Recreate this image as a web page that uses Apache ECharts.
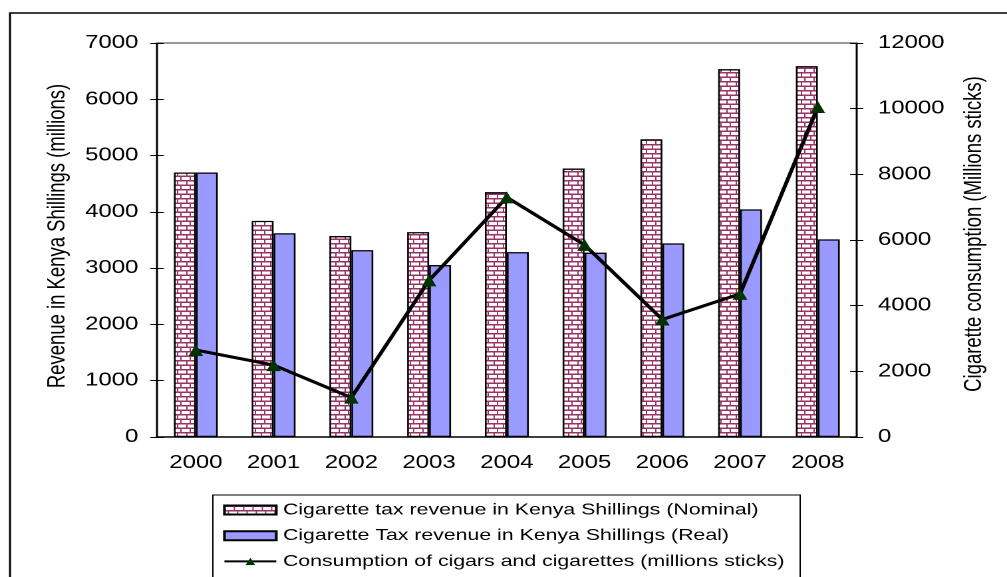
<!DOCTYPE html>
<html>
<head>
<meta charset="utf-8">
<script src="https://cdn.jsdelivr.net/npm/echarts@6/dist/echarts.min.js"></script>
<style>
html,body{margin:0;padding:0;background:#fff;overflow:hidden;width:1007px;height:577px;}
#c{width:757px;height:577px;transform:scaleX(1.33025);transform-origin:0 0;}
</style>
</head>
<body>
<div id="c"></div>
<script>
const categories = ['2000','2001','2002','2003','2004','2005','2006','2007','2008'];
const nominalRevenue = [4700, 3840, 3570, 3640, 4350, 4770, 5290, 6535, 6590];
const realRevenue = [4700, 3620, 3320, 3055, 3285, 3275, 3441, 4045, 3512];
const consumption = [2650, 2190, 1200, 4770, 7300, 5850, 3580, 4360, 10050];
const seriesNames = [
  'Cigarette tax revenue in Kenya Shillings (Nominal)',
  'Cigarette Tax revenue in Kenya Shillings (Real)',
  'Consumption of cigars and cigarettes (millions sticks)'
];
const leftAxisName = 'Revenue in Kenya Shillings (millions)';
const rightAxisName = 'Cigarette consumption (Millions sticks)';

// brick pattern
const pc = document.createElement('canvas');
pc.width = 14; pc.height = 18;
const px = pc.getContext('2d');
px.fillStyle = '#993366';
px.fillRect(0, 0, 14, 18);
px.fillStyle = '#ffffff';
px.fillRect(2, 3, 12, 6);
px.fillRect(0, 12, 5, 6);
px.fillRect(7, 12, 7, 6);
const brick = { image: pc, repeat: 'repeat', scaleX: 0.5, scaleY: 0.5 };

const FONT = 'Liberation Sans, Arial, sans-serif';
const plain = v => String(v);
const chart = echarts.init(document.getElementById('c'), null, { renderer: 'canvas', devicePixelRatio: 2 });

const baseX = { type: 'category', data: categories, boundaryGap: true };
const option = {
  animation: false,
  backgroundColor: '#fff',
  grid: { left: 118, right: 113, top: 43, bottom: 140, containLabel: false },
  graphic: [{
    type: 'rect', silent: true, z: -10,
    shape: { x: 7.5, y: 13, width: 900, height: 700 },
    style: { fill: 'none', stroke: '#000', lineWidth: 1.5 }
  }, {
    type: 'rect', silent: true, z: -10,
    shape: { x: 160, y: 495, width: 441.5, height: 200 },
    style: { fill: 'none', stroke: '#000', lineWidth: 1 }
  }],
  legend: {
    orient: 'vertical', left: 160, top: 495, align: 'left',
    itemWidth: 39, itemHeight: 9, itemGap: 9.7,
    padding: [7, 2, 2, 7.7],
    textStyle: { fontSize: 16, color: '#000', fontFamily: FONT },
    data: [
      { name: seriesNames[0], icon: 'rect' },
      { name: seriesNames[1], icon: 'rect' },
      { name: seriesNames[2] }
    ]
  },
  xAxis: [
    Object.assign({}, baseX, {
      position: 'bottom',
      axisLine: { onZero: false, lineStyle: { color: '#000', width: 1.5 } },
      axisTick: { length: 6, lineStyle: { color: '#000', width: 1 } },
      axisLabel: { fontSize: 18, color: '#000', margin: 17, fontFamily: FONT },
      splitLine: { show: false }
    }),
    Object.assign({}, baseX, {
      position: 'bottom',
      axisLine: { show: false, onZero: false },
      axisTick: { inside: true, length: 6, lineStyle: { color: '#000', width: 1 } },
      axisLabel: { show: false },
      splitLine: { show: false }
    }),
    Object.assign({}, baseX, {
      position: 'top',
      axisLine: { onZero: false, lineStyle: { color: '#999', width: 2 } },
      axisTick: { show: false },
      axisLabel: { show: false },
      splitLine: { show: false }
    })
  ],
  yAxis: [
    {
      type: 'value', position: 'left', min: 0, max: 7000, interval: 1000,
      axisLine: { show: true, lineStyle: { color: '#000', width: 1.5 } },
      axisTick: { show: true, length: 5, lineStyle: { color: '#000', width: 1 } },
      axisLabel: { fontSize: 18, color: '#000', margin: 14, fontFamily: FONT, formatter: plain },
      splitLine: { show: false },
      name: leftAxisName, nameLocation: 'middle', nameGap: 65, nameRotate: 90,
      nameTextStyle: { fontSize: 18.5, color: '#000', fontFamily: FONT, padding: [0, 0, 0, 8] }
    },
    {
      type: 'value', position: 'right', min: 0, max: 12000, interval: 2000,
      axisLine: { show: true, lineStyle: { color: '#000', width: 1.5 } },
      axisTick: { show: true, length: 5, lineStyle: { color: '#000', width: 1 } },
      axisLabel: { fontSize: 18, color: '#000', margin: 16, fontFamily: FONT, formatter: plain },
      splitLine: { show: false },
      name: rightAxisName, nameLocation: 'middle', nameGap: 79, nameRotate: 90,
      nameTextStyle: { fontSize: 18.5, color: '#000', fontFamily: FONT, padding: [0, 0, 0, 12] }
    },
    {
      type: 'value', position: 'left', min: 0, max: 7000, interval: 1000,
      axisLine: { show: false },
      axisTick: { show: true, inside: true, length: 5, lineStyle: { color: '#000', width: 1 } },
      axisLabel: { show: false }, splitLine: { show: false }
    },
    {
      type: 'value', position: 'right', min: 0, max: 12000, interval: 2000,
      axisLine: { show: false },
      axisTick: { show: true, inside: true, length: 5, lineStyle: { color: '#000', width: 1 } },
      axisLabel: { show: false }, splitLine: { show: false }
    }
  ],
  series: [
    {
      name: seriesNames[0], type: 'bar', data: nominalRevenue,
      xAxisIndex: 0, yAxisIndex: 0, barWidth: 16.5, barGap: '0%',
      itemStyle: { color: brick, borderColor: '#000', borderWidth: 1.3 }
    },
    {
      name: seriesNames[1], type: 'bar', data: realRevenue,
      xAxisIndex: 0, yAxisIndex: 0, barWidth: 16.5, barGap: '0%',
      itemStyle: { color: '#9999FF', borderColor: '#000', borderWidth: 1.3 }
    },
    {
      name: seriesNames[2], type: 'line', data: consumption,
      xAxisIndex: 0, yAxisIndex: 1, z: 5,
      symbol: 'triangle', symbolSize: [11, 12], showAllSymbol: true,
      lineStyle: { color: '#000', width: 3 },
      itemStyle: { color: '#003300', borderWidth: 0 }
    }
  ]
};
chart.setOption(option);
</script>
</body>
</html>
